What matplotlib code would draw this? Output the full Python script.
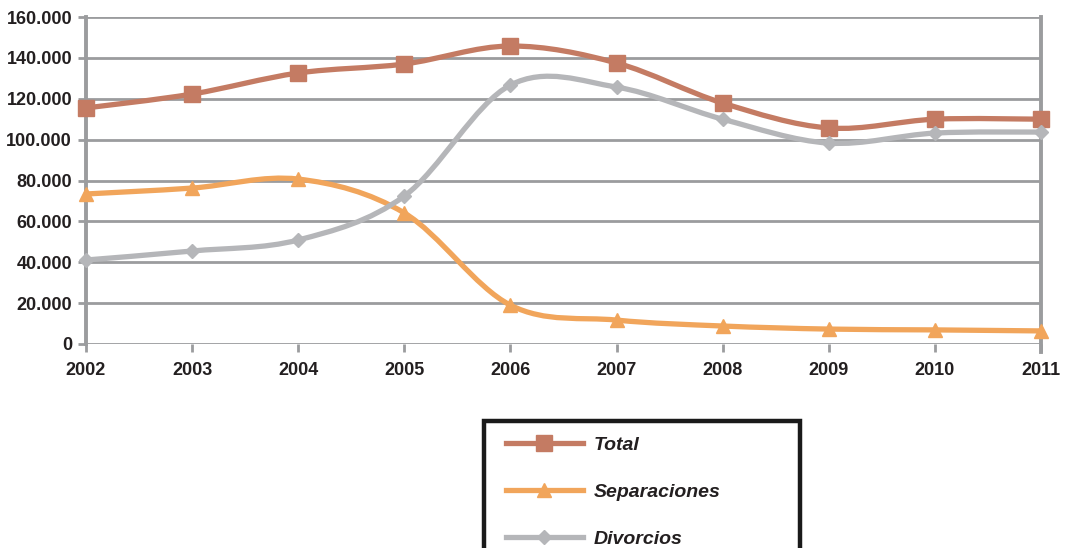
import matplotlib
matplotlib.use("Agg")
import matplotlib.pyplot as plt
from matplotlib.path import Path
from matplotlib.patches import PathPatch, Rectangle
from matplotlib.lines import Line2D
from matplotlib.ticker import FuncFormatter

years = [2002, 2003, 2004, 2005, 2006, 2007, 2008, 2009, 2010, 2011]
total = [115500, 122300, 132600, 137000, 145800, 137500, 117900, 105700, 110000, 110000]
separaciones = [73400, 76300, 80700, 64100, 19000, 11700, 8800, 7300, 6900, 6400]
divorcios = [41100, 45500, 50900, 72400, 126700, 125700, 110000, 98300, 103200, 103700]
series_names = ["Total", "Separaciones", "Divorcios"]

c_total = "#c47b63"
c_sep = "#f1a55b"
c_div = "#b5b6b9"
grid_c = "#9b9c9e"
txt_c = "#231f20"

plt.rcParams["font.family"] = ["Liberation Sans", "DejaVu Sans"]


def smooth_path(xs, ys):
    # Excel-style smoothed line: cubic bezier between points (catmull-rom control points)
    n = len(xs)
    verts = [(xs[0], ys[0])]
    codes = [Path.MOVETO]
    for i in range(n - 1):
        x0, y0 = (xs[i - 1], ys[i - 1]) if i > 0 else (xs[i], ys[i])
        x1, y1 = xs[i], ys[i]
        x2, y2 = xs[i + 1], ys[i + 1]
        x3, y3 = (xs[i + 2], ys[i + 2]) if i + 2 < n else (x2, y2)
        verts += [(x1 + (x2 - x0) / 6, y1 + (y2 - y0) / 6),
                  (x2 - (x3 - x1) / 6, y2 - (y3 - y1) / 6),
                  (x2, y2)]
        codes += [Path.CURVE4] * 3
    return Path(verts, codes)


fig = plt.figure(figsize=(10.74, 5.48), dpi=100)
ax = fig.add_axes([86 / 1074, 1 - 344 / 548, (1041 - 86) / 1074, 327 / 548])

styles = [(total, c_total, "s", 11), (separaciones, c_sep, "^", 10), (divorcios, c_div, "D", 7)]
for k, (vals, col, mk, ms) in enumerate(styles):
    ax.add_patch(PathPatch(smooth_path(years, vals), facecolor="none", edgecolor=col,
                           lw=3.8, capstyle="round", zorder=3 + k, clip_on=False))
    ax.plot(years, vals, ls="none", marker=mk, ms=ms, color=col, zorder=3 + k, clip_on=False)

ax.set_xlim(2002, 2011)
ax.set_ylim(0, 160000)
ax.set_xticks(years)
ax.set_yticks(range(0, 160001, 20000))
ax.yaxis.set_major_formatter(FuncFormatter(lambda v, p: f"{int(v):,}".replace(",", ".")))
ax.grid(axis="y", color=grid_c, lw=2.0, zorder=1)
for side in ["top", "bottom"]:
    ax.spines[side].set_visible(False)
for side in ["left", "right"]:
    ax.spines[side].set_color(grid_c)
    ax.spines[side].set_linewidth(2.8)
ax.spines["right"].set_bounds(-4000, 160000)
ax.tick_params(axis="y", length=6, width=2.0, color=grid_c, pad=4, labelsize=13, labelcolor=txt_c)
ax.tick_params(axis="x", length=6, width=2.0, color=grid_c, pad=7, labelsize=13, labelcolor=txt_c)
for lab in ax.get_xticklabels() + ax.get_yticklabels():
    lab.set_fontweight("bold")

# legend box, cut off at the bottom of the figure
fig.patches.append(Rectangle((484 / 1074, -0.05), (800 - 484) / 1074, 0.05 + (548 - 421) / 548,
                             transform=fig.transFigure, fill=False, ec="#1a1a1a", lw=3.2))
handles = [Line2D([], [], color=c, lw=3.8, marker=m, ms=s) for _, c, m, s in styles]
leg = fig.legend(handles, series_names, loc="upper left", bbox_to_anchor=(488 / 1074, 1 - 419 / 548),
                 frameon=False, handlelength=4.0, labelspacing=1.5, handletextpad=0.55,
                 prop={"size": 14, "weight": "bold", "style": "italic"})
for t in leg.get_texts():
    t.set_color(txt_c)

fig.savefig("out.png", dpi=100)
